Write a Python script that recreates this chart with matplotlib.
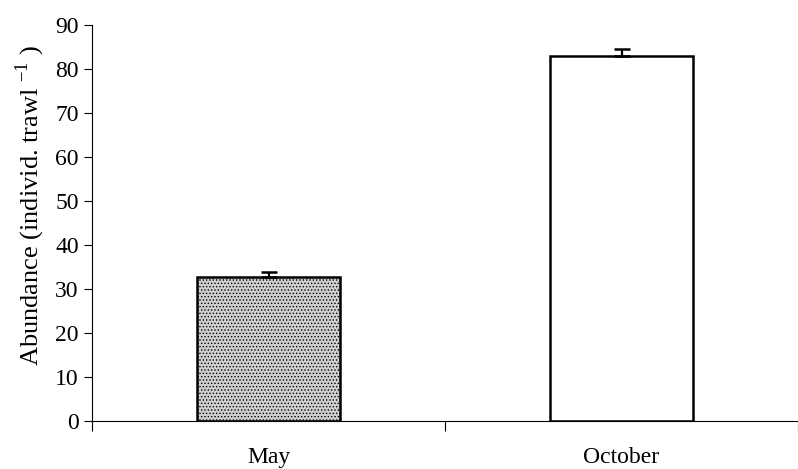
import matplotlib.pyplot as plt
import numpy as np

plt.rcParams['font.family'] = 'Liberation Serif'
plt.rcParams['mathtext.fontset'] = 'custom'
plt.rcParams['mathtext.rm'] = 'Liberation Serif'
plt.rcParams['hatch.linewidth'] = 0.6

months = ['May', 'October']
abundance = [32.8, 83.0]
err = [1.1, 1.5]

fig = plt.figure(figsize=(7.98, 4.69), dpi=100)
ax = fig.add_axes([0.1153, 0.1023, 0.8847, 0.8444])

x = np.arange(len(months))
bars = ax.bar(x, abundance, 0.405, color=['#cfcfcf', 'white'], edgecolor='black', linewidth=1.8)
bars[0].set_hatch('.....')
ax.errorbar(x, abundance, yerr=[[0, 0], err], fmt='none', ecolor='black', elinewidth=1.6, capsize=5.5, capthick=1.8)

ax.set_xlim(-0.5, 1.5)
ax.set_ylim(0, 90)
ax.set_yticks(range(0, 91, 10))
ax.set_xticks([-0.5, 0.5, 1.5])
ax.set_xticklabels([])
ax.set_xticks(x, minor=True)
ax.set_xticklabels(months, minor=True)
ax.tick_params(axis='x', which='major', direction='out', length=7, width=0.8)
ax.tick_params(axis='x', which='minor', length=0, pad=19, labelsize=17)
ax.tick_params(axis='y', direction='out', length=6, width=0.8, labelsize=17)

ax.spines['top'].set_visible(False)
ax.spines['right'].set_visible(False)
ax.spines['left'].set_linewidth(0.8)
ax.spines['bottom'].set_linewidth(0.8)

ax.set_ylabel(r'Abundance (individ. trawl $^{\mathregular{-1}}$ )', fontsize=19)
ax.yaxis.set_label_coords(-0.064, 0.545)

fig.savefig('out.png')
